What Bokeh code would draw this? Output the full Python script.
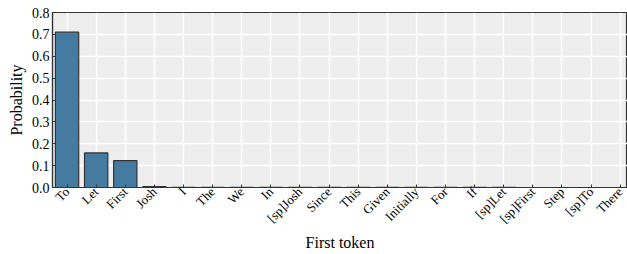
import math
from bokeh.plotting import figure
from bokeh.models import Range1d, FixedTicker, ColumnDataSource
from bokeh.embed import file_html
from bokeh.resources import INLINE

tokens = ["To", "Let", "First", "Josh", "I", "The", "We", "In", "[sp]Josh", "Since",
          "This", "Given", "Initially", "For", "If", "[sp]Let", "[sp]First", "Step", "[sp]To", "There"]
probs = [0.71, 0.158, 0.123, 0.004, 0.0008, 0.0006, 0.0005, 0.0004, 0.0004, 0.0003,
         0.0003, 0.0003, 0.0002, 0.0002, 0.0002, 0.0002, 0.0001, 0.0001, 0.0001, 0.0001]
y_ticks = [0.0, 0.1, 0.2, 0.3, 0.4, 0.5, 0.6, 0.7, 0.8]

idx = list(range(len(tokens)))
src = ColumnDataSource(dict(x=idx, top=probs))

FONT = "Liberation Serif"
p = figure(width=627, height=254, output_backend="svg", toolbar_location=None,
           x_range=Range1d(-0.5, 19.25), y_range=Range1d(0, 0.8),
           min_border_left=52, min_border_right=0, min_border_top=12, min_border_bottom=64)
p.background_fill_color = "#eeeeee"
p.border_fill_color = "white"
p.outline_line_color = "#333333"
p.outline_line_width = 1.2

p.vbar(x="x", top="top", width=0.8, bottom=0, source=src,
       fill_color="#457ba1", line_color="#333333", line_width=1.2)

p.xgrid.grid_line_color = "white"
p.ygrid.grid_line_color = "white"
p.xgrid.grid_line_width = 1.5
p.ygrid.grid_line_width = 1.5

p.xaxis.ticker = FixedTicker(ticks=idx)
p.xaxis.major_label_overrides = {i: t for i, t in enumerate(tokens)}
p.xaxis.major_label_orientation = math.pi / 4
p.yaxis.ticker = FixedTicker(ticks=y_ticks)
p.yaxis.major_label_overrides = {v: f"{v:.1f}" for v in y_ticks}

for ax in (p.xaxis[0], p.yaxis[0]):
    ax.axis_line_color = "#333333"
    ax.axis_line_width = 1.2
    ax.major_tick_in = 3
    ax.major_tick_out = 0
    ax.major_tick_line_color = "#333333"
    ax.minor_tick_line_color = None
    ax.major_label_text_font = FONT
    ax.major_label_text_font_size = "13px"
    ax.major_label_text_color = "black"
    ax.axis_label_text_font = FONT
    ax.axis_label_text_font_size = "16px"
    ax.axis_label_text_font_style = "normal"
    ax.axis_label_text_color = "black"

p.yaxis.major_label_text_font_size = "14px"
p.xaxis.axis_label = "First token"
p.yaxis.axis_label = "Probability"
p.xaxis.major_label_standoff = 2
p.yaxis.major_label_standoff = 3
p.xaxis.axis_label_standoff = 0
p.yaxis.axis_label_standoff = 4

open("out.html", "w").write(file_html(p, INLINE))
